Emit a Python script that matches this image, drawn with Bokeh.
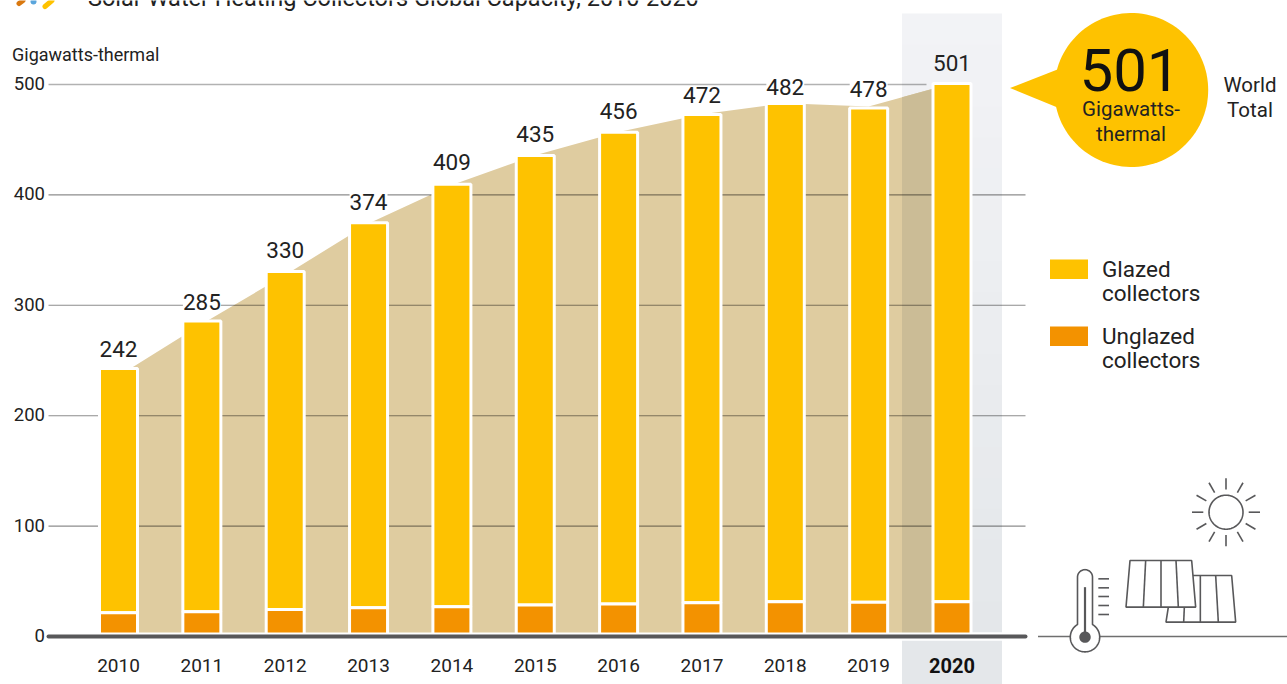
import numpy as np
from bokeh.core.properties import value
from bokeh.embed import file_html
from bokeh.models import Range1d
from bokeh.plotting import figure
from bokeh.resources import INLINE

# ---- data ----
years = [2010, 2011, 2012, 2013, 2014, 2015, 2016, 2017, 2018, 2019, 2020]
totals = [242, 285, 330, 374, 409, 435, 456, 472, 482, 478, 501]
unglazed = [21.5, 22.5, 24.5, 26, 27, 28.5, 29.5, 30.5, 31.5, 31, 31.5]
ridge = [236, 283, 327.5, 374, 409, 436, 457, 473, 483, 480, 501]
y_ticks = [0, 100, 200, 300, 400, 500]
title_text = "Solar Water Heating Collectors Global Capacity, 2010-2020"
y_title = "Gigawatts-thermal"
legend_items = [("#fec200", ["Glazed", "collectors"]), ("#f39200", ["Unglazed", "collectors"])]
label_nudge = [0, 0, 2, 2, 3, 2, 2, 0, -3, 0, 0]

FONT = value("Roboto")
INK = "#222222"
GREY = "#58585a"
W, H = 1287, 684
X0, DX = 118.0, 83.35
Y0, DY = 636.0, 1.104

p = figure(
    width=W, height=H, output_backend="svg", toolbar_location=None,
    x_range=Range1d(2010 - X0 / DX, 2010 + (W - X0) / DX),
    y_range=Range1d((Y0 - H) / DY, Y0 / DY),
    x_axis_location=None, y_axis_location=None,
    min_border=0, min_border_left=0, min_border_right=0, min_border_top=0, min_border_bottom=0,
    outline_line_color=None, background_fill_color="white", border_fill_color="white",
)
p.grid.visible = False
p.styles = {"position": "absolute", "left": "0px", "top": "0px"}
p.extra_x_ranges["px"] = Range1d(0.5, W + 0.5)
p.extra_y_ranges["px"] = Range1d(H, 0)
PX = dict(x_range_name="px", y_range_name="px")


def label(x, y, s, size=18, color=INK, align="left", style="normal"):
    p.text([x], [y], text=[s], text_font=FONT, text_font_size=f"{size}px", text_color=color,
           text_align=align, text_baseline="middle", text_font_style=style, **PX)


def circ(cx, cy, r, a0=0.0, a1=2 * np.pi, n=120):
    t = np.linspace(a0, a1, n)
    return cx + r * np.cos(t), cy + r * np.sin(t)


# highlight band (gradient in steps)
top_c, bot_c = np.array([0xf2, 0xf3, 0xf6]), np.array([0xe4, 0xe7, 0xea])
edges = np.linspace(13, 632, 21)
for i in range(20):
    c = top_c + (bot_c - top_c) * i / 19
    col = "#%02x%02x%02x" % tuple(int(round(v)) for v in c)
    p.quad(left=902, right=1002, top=edges[i], bottom=edges[i + 1] + (1 if i < 19 else 0),
           fill_color=col, line_color=None, **PX)
p.quad(left=902, right=1002, top=640, bottom=684, fill_color="#e4e7ea", line_color=None, **PX)

# area behind the bars
yrs = np.array(years, dtype=float)
rdg = np.array(ridge, dtype=float)
p.patch(np.r_[yrs, yrs[-1], yrs[0]], np.r_[rdg, 0, 0], fill_color="#dfcca0", line_color=None)
band_left = 2010 + (901.5 - X0) / DX
keep = yrs > band_left
bx = np.r_[band_left, yrs[keep]]
by = np.r_[np.interp(band_left, yrs, rdg), rdg[keep]]
p.patch(np.r_[bx, bx[-1], bx[0]], np.r_[by, 0, 0], fill_color="#cbbc96", line_color=None)

# gridlines, drawn over the area
x_l, x_r = 2010 + (48 - X0) / DX, 2010 + (1025 - X0) / DX
x_500 = 2010 + (926 - X0) / DX
for t in y_ticks[1:]:
    p.line([x_l, x_500 if t == 500 else x_r], [t, t], line_color="#000000",
           line_alpha=0.3 if t == 500 else 0.45, line_width=1.6 if t == 500 else 1.1)

# bars
bw = 38 / DX
tot = np.array(totals, dtype=float)
ung = np.array(unglazed, dtype=float)
top_px = np.where(yrs == 2020, 0.0, 0.8) / DY
p.quad(left=yrs - bw / 2, right=yrs + bw / 2, bottom=ung, top=tot + top_px,
       fill_color="#fec200", line_color="white", line_width=3)
p.quad(left=yrs - bw / 2, right=yrs + bw / 2, bottom=0, top=ung,
       fill_color="#f39200", line_color="white", line_width=3)

# baseline: white gap, then dark axis
p.line([x_l - 1, 2010 + (1030 - X0) / DX], [0, 0], line_color="white", line_width=8)
p.line([x_l, x_r], [0, 0], line_color=GREY, line_width=4, line_cap="round")

# value labels
lab_kw = dict(text_font=FONT, text_font_size="22.5px", text_color=INK, text_align="center",
              text_baseline="middle")
p.text(years[:-1], totals[:-1], text=[str(v) for v in totals[:-1]], y_offset=[-20 - n for n in label_nudge[:-1]],
       background_fill_color="white", **lab_kw)
p.text(years[-1:], totals[-1:], text=[str(totals[-1])], y_offset=-20, **lab_kw)

# y ticks and x ticks
p.text([2010 + (44.5 - X0) / DX] * len(y_ticks), y_ticks, text=[str(v) for v in y_ticks],
       text_font=FONT, text_font_size="18.5px", text_color=INK, text_align="right",
       text_baseline="middle", y_offset=-1)
p.text(years[:-1], [(Y0 - 665) / DY] * 10, text=[str(v) for v in years[:-1]],
       text_font=FONT, text_font_size="19px", text_color=INK, text_align="center", text_baseline="middle")
p.text(years[-1:], [(Y0 - 665) / DY], text=[str(years[-1])], text_font=FONT, text_font_size="20px",
       text_font_style="bold", text_color="#111111", text_align="center", text_baseline="middle")

label(12, 53.5, y_title, 18)
label(88, -2.5, title_text, 23.5)

# clipped logo fragment
p.line([19, 23], [3, 0], line_color="#d9780f", line_width=5, line_cap="round", **PX)
p.scatter([33.5], [1], size=6, fill_color="#5aa5dc", line_color=None, **PX)
p.line([45, 52], [6, 0], line_color="#fec200", line_width=5, line_cap="round", **PX)

# callout
cx, cy = circ(1131.2, 89.5, 77)
p.patch(cx, cy, fill_color="#fec200", line_color=None, **PX)
p.patch([1010, 1060, 1060], [87.5, 68, 108], fill_color="#fec200", line_color=None, **PX)
label(1130, 69, "501", 60, color="#111111", align="center")
label(1131, 108.5, "Gigawatts-", 20.5, align="center")
label(1131, 133.5, "thermal", 20.5, align="center")
label(1250, 84.5, "World", 20.5, align="center")
label(1250, 109.5, "Total", 20.5, align="center")

# legend
for (col, lines), ytop in zip(legend_items, [259, 326]):
    p.quad(left=1050, right=1088, top=ytop, bottom=ytop + 19.5, fill_color=col, line_color=None, **PX)
    label(1102, ytop + 9, lines[0], 22.5)
    label(1102, ytop + 33, lines[1], 22.5)

# icons
ic = dict(line_color=GREY, line_width=1.6, **PX)
z = lambda a, b: (1030 + a / 3, 460 + b / 3)


def seg(a, b, c, d, **kw):
    (x1, y1), (x2, y2) = z(a, b), z(c, d)
    p.line([x1, x2], [y1, y2], **{**ic, **kw})


p.line([1038, 1288], [636, 636], line_color="#6f6f6f", line_width=1.6, **PX)
sx, sy = circ(1226, 511.7, 17)
p.line(sx, sy, **ic)
for deg in range(0, 360, 30):
    a = np.radians(deg)
    p.line([1226 + 22.7 * np.cos(a), 1226 + 34 * np.cos(a)],
           [511.7 + 22.7 * np.sin(a), 511.7 + 34 * np.sin(a)], **ic)

# back panel, then front panel
back = [z(415, 440), z(408, 485), z(617, 485), z(605, 345), z(487, 345)]
p.line([q[0] for q in back], [q[1] for q in back], **ic)
seg(463, 440, 461, 485)
seg(511, 345, 511, 485)
seg(557, 345, 565, 485)
front = [z(300, 300), z(485, 300), z(497, 440), z(288, 440)]
p.patch([q[0] for q in front], [q[1] for q in front], fill_color="white", **ic)
seg(347, 300, 340, 440)
seg(393, 300, 393, 440)
seg(438, 300, 445, 440)

# thermometer
tx, ty = z(165, 350)
bulb_x, bulb_y = z(165, 530)
rt, rb = 7.5, 14.7
ang = np.arcsin(rt / rb)
ax, ay = circ(tx, ty, rt, np.pi, 2 * np.pi, 40)
bx2, by2 = circ(bulb_x, bulb_y, rb, -np.pi / 2 + ang, 1.5 * np.pi - ang, 100)
p.patch(np.r_[ax, bx2], np.r_[ay, by2], fill_color="white", line_color=GREY, line_width=1.6, **PX)
seg(165, 380, 165, 530, line_width=2.2)
dx_, dy_ = circ(bulb_x, bulb_y, 5.7)
p.patch(dx_, dy_, fill_color=GREY, line_color=None, **PX)
for b in [355, 382, 408, 435, 462]:
    seg(205, b, 237, b)

open("out.html", "w").write(file_html(p, INLINE))
